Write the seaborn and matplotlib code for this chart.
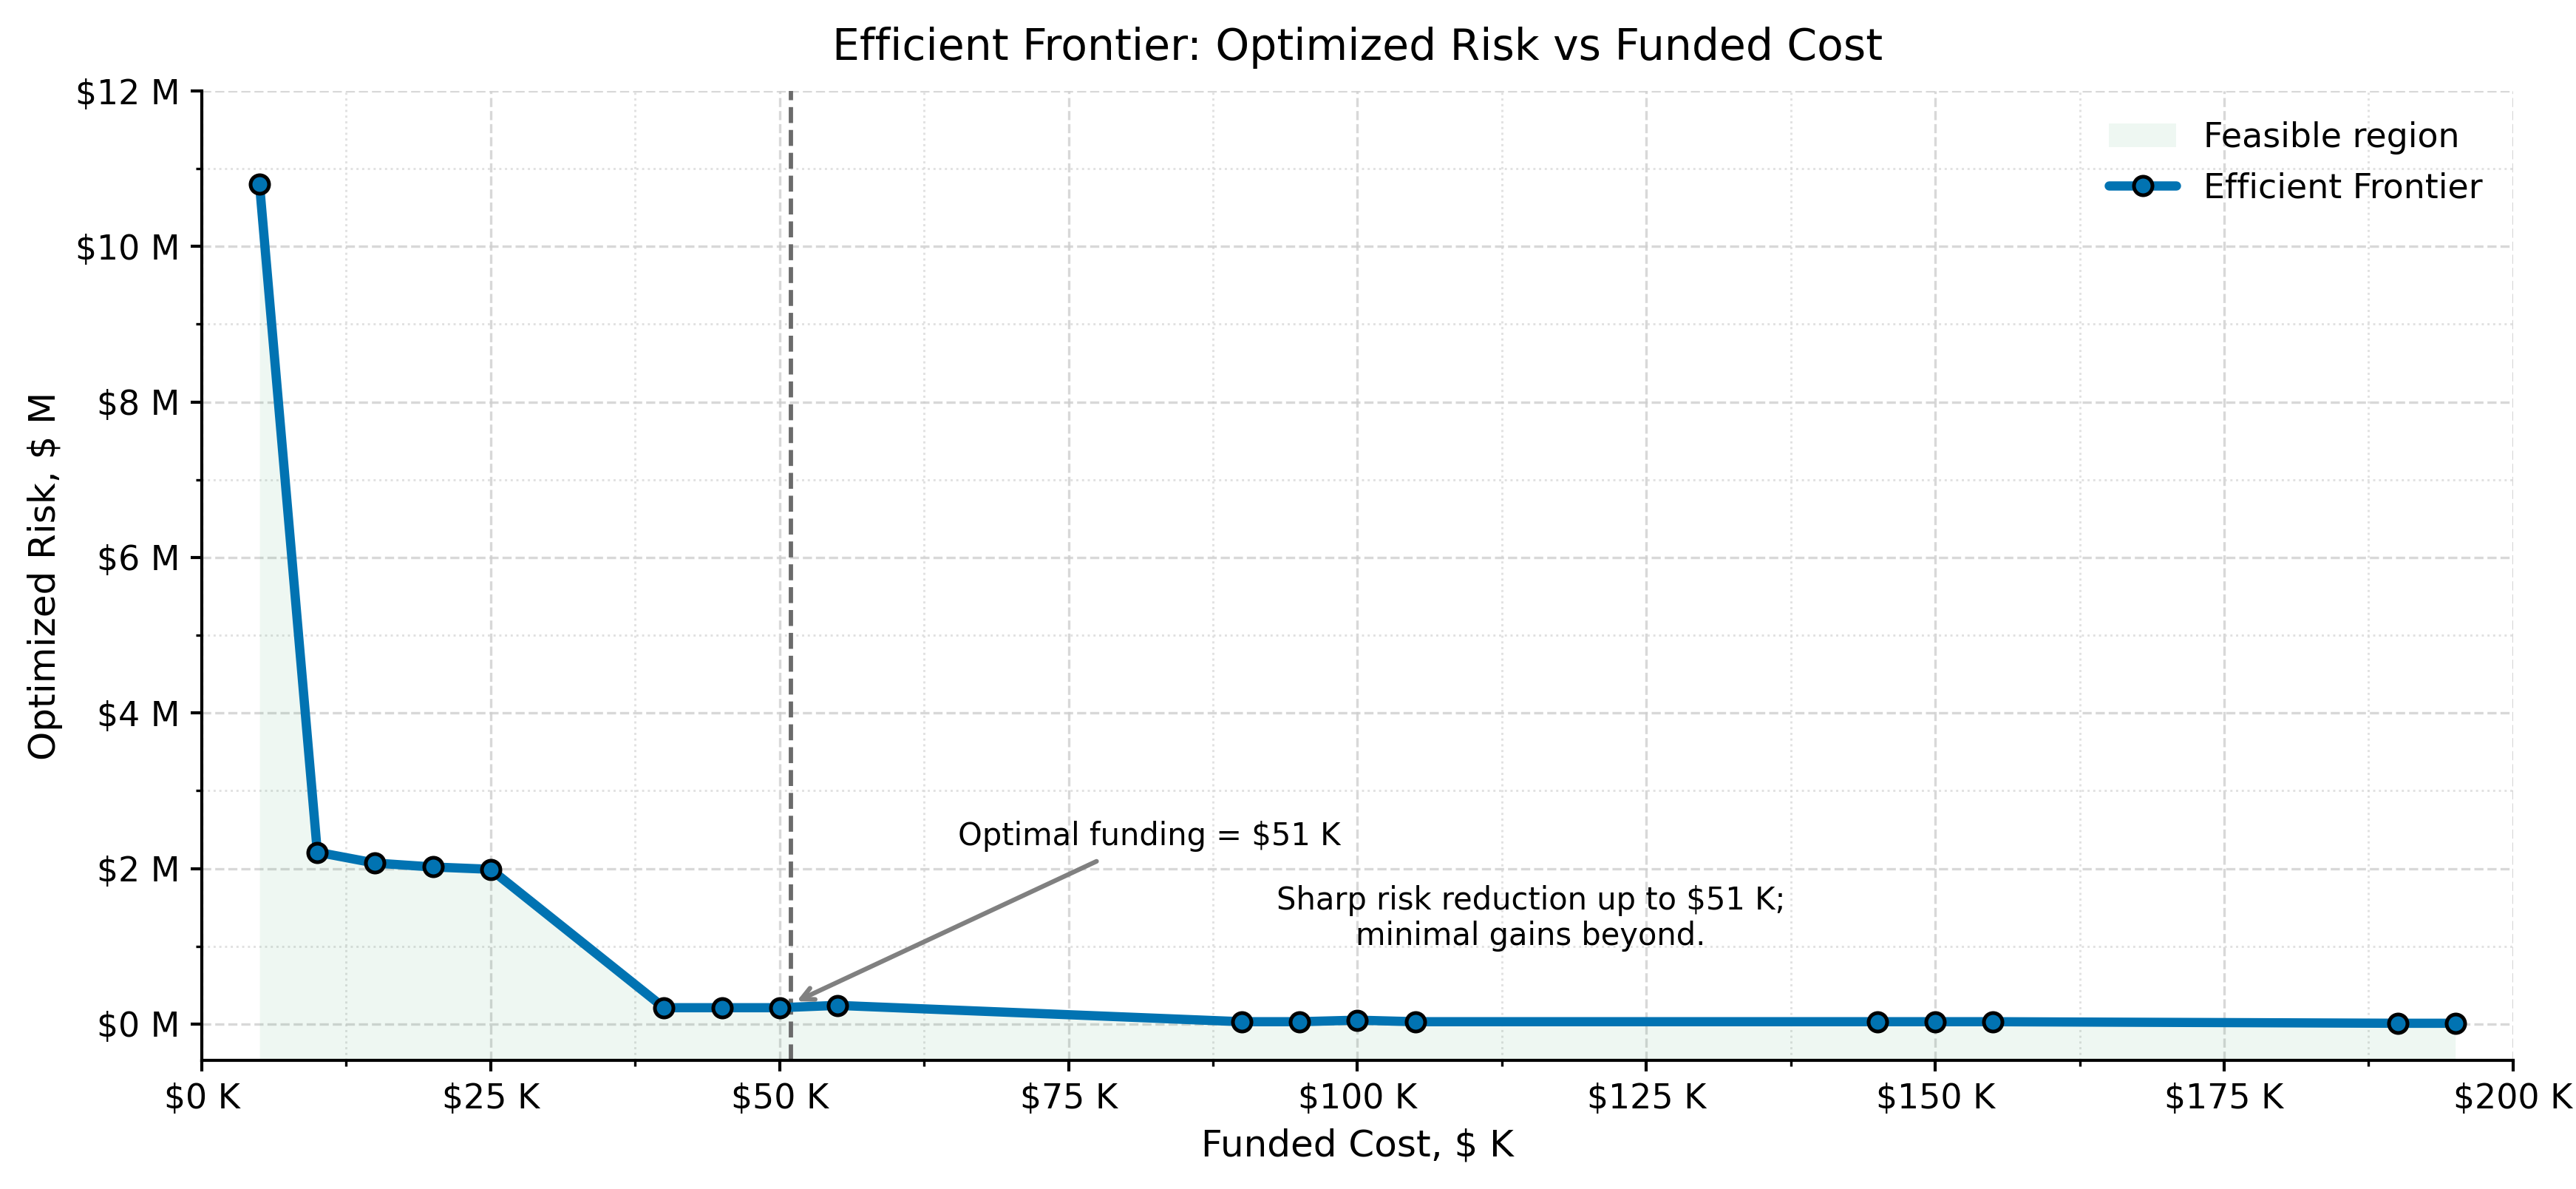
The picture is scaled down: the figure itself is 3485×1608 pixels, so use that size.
import matplotlib
matplotlib.use("Agg")
import matplotlib.pyplot as plt
from matplotlib.ticker import AutoMinorLocator, FuncFormatter
import seaborn as sns

sns.set_theme(context="notebook", style="ticks")
plt.rcParams["font.family"] = ["DejaVu Sans"]
plt.rcParams["text.color"] = "black"
plt.rcParams["axes.labelcolor"] = "black"
plt.rcParams["xtick.color"] = "black"
plt.rcParams["ytick.color"] = "black"

cost_k = [5, 10, 15, 20, 25, 40, 45, 50, 55, 90, 95, 100, 105, 145, 150, 155, 190, 195]
risk_m = [10.8, 2.21, 2.07, 2.02, 1.99, 0.21, 0.21, 0.21, 0.24, 0.03, 0.03, 0.05, 0.03,
          0.03, 0.03, 0.03, 0.01, 0.01]
optimal_k = 51

line_color = "#0173b2"
fill_color = "#2e9b5a"

fig = plt.figure(figsize=(11.62, 5.36), dpi=300)
ax = fig.add_axes([0.0783, 0.108, 0.9753 - 0.0783, 0.9235 - 0.108])

y_bottom = -0.47
ax.fill_between(cost_k, risk_m, y_bottom, color=fill_color, alpha=0.08, lw=0,
                label="Feasible region")
sns.lineplot(x=cost_k, y=risk_m, ax=ax, color=line_color, lw=3, marker="o",
             markersize=6, markerfacecolor=line_color, markeredgecolor="black",
             markeredgewidth=1.2, label="Efficient Frontier", zorder=3)

ax.axvline(optimal_k, color="0.42", ls="--", lw=1.4, zorder=2)

ax.annotate(f"Optimal funding = ${optimal_k} K", xy=(optimal_k, 0.26), xytext=(82, 2.41),
            ha="center", va="center", fontsize=10,
            arrowprops=dict(arrowstyle="->", color="gray", lw=1.5))
ax.text(115, 1.36, f"Sharp risk reduction up to ${optimal_k} K;\nminimal gains beyond.",
        ha="center", va="center", fontsize=10)

ax.set_xlim(0, 200)
ax.set_ylim(y_bottom, 12)
ax.xaxis.set_major_formatter(FuncFormatter(lambda v, p: f"${v:.0f} K"))
ax.yaxis.set_major_formatter(FuncFormatter(lambda v, p: f"${v:.0f} M"))
ax.xaxis.set_minor_locator(AutoMinorLocator(2))
ax.yaxis.set_minor_locator(AutoMinorLocator(2))
ax.tick_params(which="major", length=3.5, width=1, color="black")
ax.tick_params(which="minor", length=2, width=0.8, color="black")

ax.grid(which="major", ls="--", color="#cfcfcf", lw=0.8, alpha=0.8)
ax.grid(which="minor", ls=":", color="#dadada", lw=0.7, alpha=0.8)

for side in ["left", "bottom"]:
    ax.spines[side].set_color("black")
    ax.spines[side].set_linewidth(1.0)
sns.despine(ax=ax)

ax.set_title("Efficient Frontier: Optimized Risk vs Funded Cost", fontsize=14, pad=10)
ax.set_xlabel("Funded Cost, $ K", fontsize=12)
ax.set_ylabel("Optimized Risk, $ M", fontsize=12)
ax.legend(loc="upper right", frameon=False, fontsize=11)

fig.savefig("out.png", dpi=300)
